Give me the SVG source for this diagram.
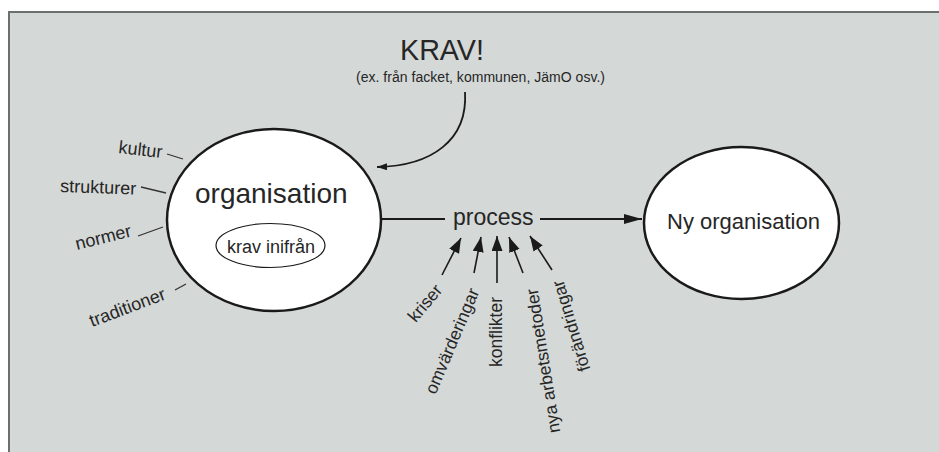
<svg xmlns="http://www.w3.org/2000/svg" width="939" height="452" viewBox="0 0 939 452">
<style>
text{font-family:"Liberation Sans",Arial,sans-serif;fill:#262626}
.node{fill:#fff;stroke:#1a1a1a;stroke-width:2.5}
.conn{stroke:#1a1a1a;fill:none}
.dash{stroke:#333;stroke-width:1.3;fill:none}
.lbl{font-size:18px}
.in{font-size:17.5px;dominant-baseline:central;text-anchor:middle}
</style>
<defs>
<marker id="big" markerUnits="userSpaceOnUse" markerWidth="20" markerHeight="12" refX="18" refY="5" orient="auto">
<path d="M0,0 L18,5 L0,10 Z" fill="#1a1a1a"/>
</marker>
<marker id="sm" markerUnits="userSpaceOnUse" markerWidth="16" markerHeight="12" refX="15" refY="5.5" orient="auto">
<path d="M0,0 L15,5.5 L0,11 Z" fill="#1a1a1a"/>
</marker>
<marker id="tiny" markerUnits="userSpaceOnUse" markerWidth="12" markerHeight="8" refX="10" refY="3.5" orient="auto">
<path d="M0,0 L10,3.5 L0,7 Z" fill="#1a1a1a"/>
</marker>
</defs>
<rect x="0" y="0" width="939" height="452" fill="#fff"/>
<rect x="9" y="12" width="940" height="450" fill="#d4d8d6" stroke="#6b706e" stroke-width="2"/>

<g id="krav">
<text x="400" y="60" font-size="29" textLength="84" lengthAdjust="spacingAndGlyphs">KRAV!</text>
<text x="356" y="82" font-size="14" textLength="249">(ex. från facket, kommunen, JämO osv.)</text>
</g>

<g id="organisation">
<ellipse class="node" cx="274" cy="220" rx="107" ry="91"/>
<text x="195" y="203" font-size="28">organisation</text>
<ellipse cx="270.5" cy="245.5" rx="54.5" ry="22" fill="#fff" stroke="#1a1a1a" stroke-width="1.2"/>
<text x="227" y="253" font-size="18">krav inifrån</text>
</g>

<g id="ny-organisation">
<ellipse class="node" cx="741.5" cy="223" rx="97.5" ry="76"/>
<text x="667" y="229" font-size="22">Ny organisation</text>
</g>

<g id="process">
<text x="453" y="225" font-size="23">process</text>
</g>

<g id="factors-left">
<text class="lbl" transform="translate(118,153) rotate(6.5)">kultur</text>
<text class="lbl" transform="translate(60,192) rotate(2)">strukturer</text>
<text class="lbl" transform="translate(77,250) rotate(-14)">normer</text>
<text class="lbl" transform="translate(92,327) rotate(-20.5)">traditioner</text>
</g>

<g id="factors-bottom">
<text class="in" transform="translate(425,303) rotate(-50)">kriser</text>
<text class="in" transform="translate(452,341) rotate(-67)">omvärderingar</text>
<text class="in" transform="translate(496,332) rotate(-90)">konflikter</text>
<text class="in" transform="translate(543,361) rotate(-99)">nya arbetsmetoder</text>
<text class="in" transform="translate(571,326) rotate(-107)">förändringar</text>
</g>

<g id="connectors">
<path class="dash" d="M167,154 L183,159"/>
<path class="dash" d="M141,187 L166,193"/>
<path class="dash" d="M138,236 L163,227"/>
<path class="dash" d="M175,290 L186,284"/>
<path class="conn" stroke-width="1.8" d="M465,92 C468,140 432,166 377,167" marker-end="url(#tiny)"/>
<path class="conn" stroke-width="2" d="M381,219 L445,219"/>
<path class="conn" stroke-width="2" d="M540,219 L642,219" marker-end="url(#big)"/>
<path class="conn" stroke-width="1.6" d="M442,275 L461,238" marker-end="url(#sm)"/>
<path class="conn" stroke-width="1.6" d="M474,273 L481,237" marker-end="url(#sm)"/>
<path class="conn" stroke-width="1.6" d="M497,283 L497,236" marker-end="url(#sm)"/>
<path class="conn" stroke-width="1.6" d="M523,273 L509,237" marker-end="url(#sm)"/>
<path class="conn" stroke-width="1.6" d="M552,270 L530,236" marker-end="url(#sm)"/>
</g>
</svg>
